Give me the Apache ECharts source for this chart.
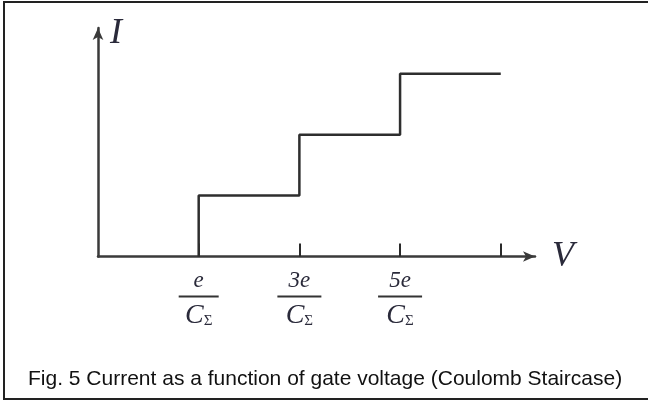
<!DOCTYPE html>
<html>
<head>
<meta charset="utf-8">
<script src="https://cdn.jsdelivr.net/npm/echarts@6/dist/echarts.min.js"></script>
<style>
  html, body { margin: 0; padding: 0; background: #fff; }
  #main { width: 648px; height: 404px; }
</style>
</head>
<body>
<div id="main"></div>
<script>
// gate voltage in units of the tick spacing, current in units of one step
var voltageTicks = [1, 2, 3, 4];
var tickNumerators = ['e', '3e', '5e', ''];
var stepVoltages = [1, 2, 3, 4];
var currentLevels = [0, 1, 2, 3];
var caption = 'Fig. 5 Current as a function of gate voltage (Coulomb Staircase)';

var myChart = echarts.init(document.getElementById('main'));

var staircase = stepVoltages.map(function (v, i) {
  return [v, currentLevels[i]];
});

myChart.setOption({
  animation: false,
  title: {
    text: caption,
    left: 23,
    top: 364,
    textStyle: {
      fontFamily: 'Liberation Sans, Arial, sans-serif',
      fontSize: 21,
      fontWeight: 'normal',
      color: '#111'
    }
  },
  grid: {
    left: 98,
    top: 28,
    width: 437,
    height: 228.5
  },
  xAxis: {
    type: 'value',
    min: 0,
    max: 4.34,
    name: 'V',
    nameLocation: 'end',
    nameGap: 17,
    nameTextStyle: {
      fontFamily: 'Liberation Serif, serif',
      fontStyle: 'italic',
      fontSize: 36,
      color: '#2a2a3a',
      padding: [6, 0, 0, 0]
    },
    splitLine: { show: false },
    axisLine: {
      lineStyle: { color: '#3a3a3a', width: 2.5 },
      symbol: ['none', 'arrow'],
      symbolSize: [8, 12]
    },
    axisTick: {
      show: true,
      inside: true,
      length: 13,
      customValues: voltageTicks,
      lineStyle: { color: '#2a2a2a', width: 2 }
    },
    axisLabel: {
      customValues: voltageTicks,
      margin: 12,
      formatter: function (val) {
        var i = voltageTicks.indexOf(val);
        if (i < 0 || !tickNumerators[i]) return '';
        var w = tickNumerators[i].length > 1 ? 44 : 40;
        return '{n|' + tickNumerators[i] + '}\n{bar' + w + '|}\n{c|C}{s|Σ}';
      },
      rich: {
        n: { fontFamily: 'Liberation Serif, serif', fontStyle: 'italic', fontSize: 23, color: '#2a2a3a', lineHeight: 24, align: 'center' },
        bar40: { width: 40, height: 2, backgroundColor: '#333', lineHeight: 8, align: 'center' },
        bar44: { width: 44, height: 2, backgroundColor: '#333', lineHeight: 8, align: 'center' },
        c: { fontFamily: 'Liberation Serif, serif', fontStyle: 'italic', fontSize: 28, color: '#2a2a3a', lineHeight: 30 },
        s: { fontFamily: 'Liberation Serif, serif', fontSize: 15, color: '#2a2a3a', padding: [12, 0, 0, 0] }
      }
    }
  },
  yAxis: {
    type: 'value',
    min: 0,
    max: 3.75,
    name: 'I',
    nameLocation: 'end',
    nameGap: -24,
    nameTextStyle: {
      fontFamily: 'Liberation Serif, serif',
      fontStyle: 'italic',
      fontSize: 36,
      color: '#2a2a3a',
      align: 'left',
      verticalAlign: 'bottom',
      padding: [0, 0, 0, 12]
    },
    splitLine: { show: false },
    axisLine: {
      show: true,
      lineStyle: { color: '#3a3a3a', width: 2.5 },
      symbol: ['none', 'arrow'],
      symbolSize: [8, 12]
    },
    axisTick: { show: false },
    axisLabel: { show: false }
  },
  graphic: [{
    type: 'polyline',
    silent: true,
    shape: { points: [[660, 2], [4, 2], [4, 399], [660, 399]] },
    style: { stroke: '#222', lineWidth: 2, fill: null }
  }],
  series: [{
    type: 'line',
    step: 'start',
    data: staircase,
    symbol: 'none',
    lineStyle: { color: '#2e2e2e', width: 2.5 }
  }]
});

window.addEventListener('resize', function () {
  myChart.resize();
});
</script>
</body>
</html>
